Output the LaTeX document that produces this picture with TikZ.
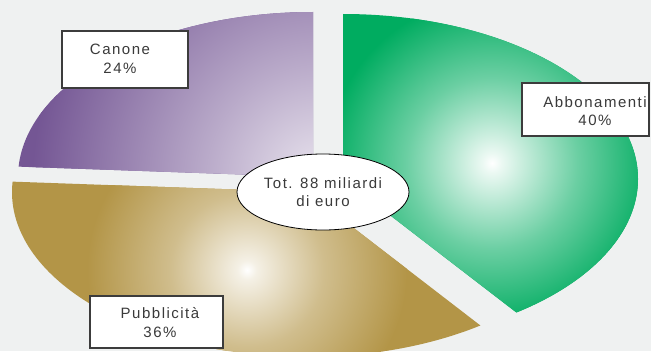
\documentclass[tikz,border=0pt]{standalone}
\usepackage{fontspec}
\setmainfont{Liberation Sans}[LetterSpace=10]
\usetikzlibrary{shapes.geometric}
\definecolor{bgc}{RGB}{239,241,241}
\definecolor{gdark}{RGB}{0,172,96}
\definecolor{pdark}{RGB}{116,86,148}
\definecolor{ydark}{RGB}{179,149,71}
\definecolor{txt}{RGB}{58,58,58}
\definecolor{edge}{RGB}{60,60,60}
\pgfdeclareradialshading{gglow}{\pgfpointorigin}{color(0bp)=(white); color(1.5bp)=(gdark!8!white); color(13bp)=(gdark!58!white); color(25bp)=(gdark); color(50bp)=(gdark)}
\pgfdeclareradialshading{yglow}{\pgfpointorigin}{color(0bp)=(white); color(1.5bp)=(ydark!14!white); color(12bp)=(ydark!62!white); color(25bp)=(ydark); color(50bp)=(ydark)}
\pgfdeclareradialshading{pglow}{\pgfpointorigin}{color(0bp)=(pdark!15!white); color(10bp)=(pdark!50!white); color(25bp)=(pdark); color(50bp)=(pdark)}
\tikzset{
  lbl/.style={text=txt, align=center, font=\fontsize{15bp}{18.5bp}\selectfont, inner sep=0pt},
  box/.style={draw=edge, line width=1.1bp, fill=white, rectangle, inner sep=0pt},
}
\begin{document}
\begin{tikzpicture}[x=1bp,y=1bp]
\useasboundingbox (0,0) rectangle (651,351);
\fill[bgc] (0,0) rectangle (651,351);
\clip (0,0) rectangle (651,351);
% Abbonamenti (green)
\begin{scope}
\clip (343,172) -- ++(0,165) arc[start angle=90,end angle=-54,x radius=295,y radius=165] -- cycle;
\fill[gdark] (0,0) rectangle (651,351);
\shade[shading=gglow] (492,188) circle (165);
\end{scope}
% Canone (purple)
\begin{scope}
\clip (313,174) -- ++(0,165) arc[start angle=90,end angle=176.4,x radius=295,y radius=165] -- cycle;
\fill[pdark] (0,0) rectangle (651,351);
\shade[shading=pglow] (322,171) circle (290);
\end{scope}
% Pubblicita (gold)
\begin{scope}
\clip (307,159) -- ++(176.4:295 and 165) arc[start angle=176.4,end angle=306,x radius=295,y radius=165] -- cycle;
\fill[ydark] (0,0) rectangle (651,351);
\shade[shading=yglow] (247,81) circle (160);
\end{scope}
% centre ellipse
\node[ellipse, draw=black, fill=white, line width=0.8bp, minimum width=172bp, minimum height=76bp, lbl] (tot) at (323,159) {Tot. 88 miliardi\\di euro};
% label boxes
\node[box, minimum width=126bp, minimum height=57bp] (canonebox) at (125,291.5) {};
\node[lbl] (canone) at (120,292) {Canone\\24\%};
\node[box, minimum width=127bp, minimum height=53bp] (abbobox) at (585.5,241.5) {};
\node[lbl] (abbo) at (595,240) {Abbonamenti\\40\%};
\node[box, minimum width=133bp, minimum height=52bp] (pubbox) at (156.5,29) {};
\node[lbl] (pub) at (160,28.5) {Pubblicità\\36\%};
\end{tikzpicture}
\end{document}
